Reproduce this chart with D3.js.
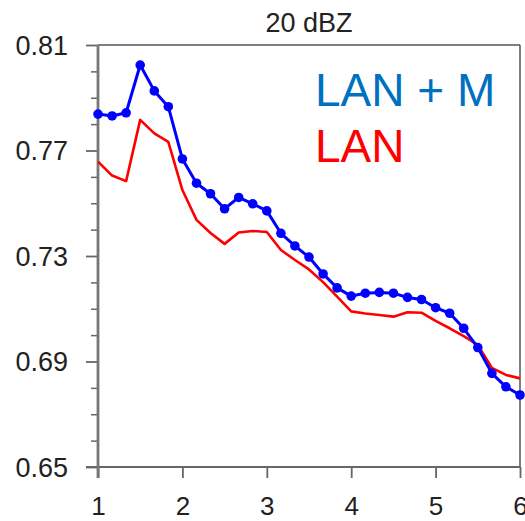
<!DOCTYPE html>
<html>
<head>
<meta charset="utf-8">
<script src="https://cdn.jsdelivr.net/npm/d3@7"></script>
<style>
	body { margin: 0; background: #fff; }
	svg { display: block; font-family: "Liberation Sans", Arial, sans-serif; }
</style>
</head>
<body>
<svg id="chart" width="525" height="521" viewBox="0 0 525 521"></svg>
<script>
// values
const x_values = [1.000, 1.167, 1.333, 1.500, 1.667, 1.833, 2.000, 2.167, 2.333, 2.500, 2.667, 2.833,
	3.000, 3.167, 3.333, 3.500, 3.667, 3.833, 4.000, 4.167, 4.333, 4.500, 4.667, 4.833,
	5.000, 5.167, 5.333, 5.500, 5.667, 5.833, 6.000];

const lan_m_values = [0.7838, 0.7831, 0.7843, 0.8024, 0.7926, 0.7866, 0.7668, 0.7576, 0.7536, 0.7479, 0.7522, 0.7498,
	0.7471, 0.7386, 0.7338, 0.7296, 0.7232, 0.7179, 0.7148, 0.7159, 0.7162, 0.7159, 0.7143, 0.7135,
	0.7104, 0.7083, 0.7026, 0.6953, 0.6855, 0.6804, 0.6773];

const lan_values = [0.7658, 0.7605, 0.7584, 0.7816, 0.7765, 0.7733, 0.7550, 0.7437, 0.7387, 0.7346, 0.7389, 0.7395,
	0.7391, 0.7323, 0.7285, 0.7249, 0.7201, 0.7146, 0.7090, 0.7082, 0.7076, 0.7070, 0.7087, 0.7085,
	0.7054, 0.7026, 0.6996, 0.6963, 0.6876, 0.6849, 0.6836];

const y_major_ticks = [0.65, 0.69, 0.73, 0.77, 0.81];
const y_minor_ticks = [0.66, 0.67, 0.68, 0.70, 0.71, 0.72, 0.74, 0.75, 0.76, 0.78, 0.79, 0.80];
const x_ticks = [1, 2, 3, 4, 5, 6];

const title_text = "20 dBZ";
const legend_labels = ["LAN + M", "LAN"];
const legend_colors = ["#0070c0", "#ff0000"];

const svg = d3.select("#chart");
const plot_left = 98, plot_right = 520, plot_top = 45, plot_bottom = 467;

let x = d3.scaleLinear().domain([1, 6]).range([plot_left, plot_right]);
let y = d3.scaleLinear().domain([0.65, 0.81]).range([plot_bottom, plot_top]);

// frame: top and right
svg.append("line").attr("x1", plot_left).attr("x2", plot_right).attr("y1", plot_top).attr("y2", plot_top)
	.attr("stroke", "#555").attr("stroke-width", 1.5);
svg.append("line").attr("x1", plot_right).attr("x2", plot_right).attr("y1", plot_top).attr("y2", plot_bottom)
	.attr("stroke", "#555").attr("stroke-width", 1.5);

// minor y ticks
svg.append("g")
	.attr("transform", `translate(${plot_left},0)`)
	.call(d3.axisLeft(y).tickValues(y_minor_ticks).tickSize(7).tickFormat(""))
	.call(g => g.select(".domain").remove())
	.selectAll("line").attr("stroke", "#666").attr("stroke-width", 1.5);

// major y ticks
let y_axis = svg.append("g")
	.attr("transform", `translate(${plot_left},0)`)
	.call(d3.axisLeft(y).tickValues(y_major_ticks).tickSize(12).tickPadding(18).tickFormat(d3.format(".2f")));
y_axis.select(".domain").remove();
y_axis.selectAll("line").attr("stroke", "#666").attr("stroke-width", 1.8);
y_axis.selectAll("text").attr("font-size", 27).attr("fill", "#222").attr("font-family", null)
	.attr("dy", "0.35em");

// x ticks
let x_axis = svg.append("g")
	.attr("transform", `translate(0,${plot_bottom})`)
	.call(d3.axisBottom(x).tickValues(x_ticks).tickSize(11).tickPadding(19).tickFormat(d3.format("d")));
x_axis.select(".domain").remove();
x_axis.selectAll("line").attr("stroke", "#666").attr("stroke-width", 1.8);
x_axis.selectAll("text").attr("font-size", 26).attr("fill", "#222").attr("font-family", null);

// left and bottom axis lines
svg.append("line").attr("x1", plot_left - 12).attr("x2", plot_right).attr("y1", plot_bottom).attr("y2", plot_bottom)
	.attr("stroke", "#666").attr("stroke-width", 2);
svg.append("line").attr("x1", plot_left).attr("x2", plot_left).attr("y1", plot_top).attr("y2", plot_bottom + 11)
	.attr("stroke", "#777").attr("stroke-width", 2.8);

// title
svg.append("text").attr("x", (plot_left + plot_right) / 2).attr("y", 32)
	.attr("text-anchor", "middle").attr("font-size", 27).attr("fill", "#222")
	.text(title_text);

// series
let line = d3.line().x((d, i) => x(x_values[i])).y(d => y(d));

svg.append("path").datum(lan_values)
	.attr("d", line).attr("fill", "none").attr("stroke", "#ff0000").attr("stroke-width", 2.6)
	.attr("stroke-linejoin", "round");

svg.append("path").datum(lan_m_values)
	.attr("d", line).attr("fill", "none").attr("stroke", "#0000ff").attr("stroke-width", 3)
	.attr("stroke-linejoin", "round");

svg.selectAll("circle.marker")
	.data(lan_m_values)
	.enter().append("circle")
	.attr("class", "marker")
	.attr("cx", (d, i) => x(x_values[i]))
	.attr("cy", d => y(d))
	.attr("r", 4.8)
	.attr("fill", "#0000ff");

// legend text
svg.selectAll("text.legend")
	.data(legend_labels)
	.enter().append("text")
	.attr("class", "legend")
	.attr("x", 315)
	.attr("y", (d, i) => 106 + i * 55.5)
	.attr("font-size", 46)
	.attr("fill", (d, i) => legend_colors[i])
	.text(d => d);
</script>
</body>
</html>
